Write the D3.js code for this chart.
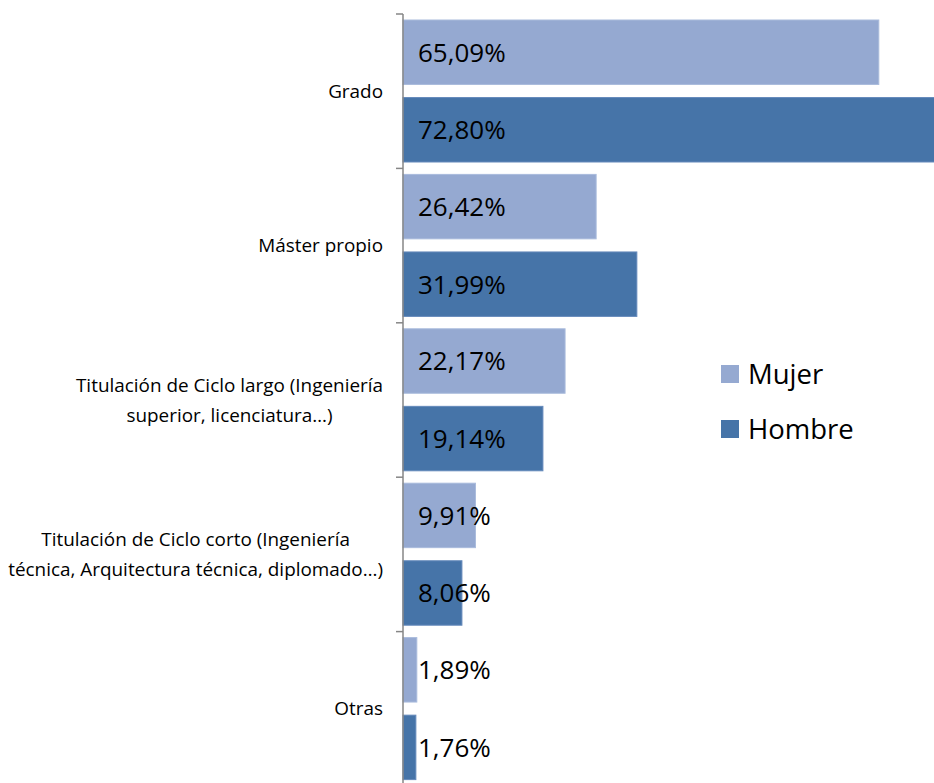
<!DOCTYPE html>
<html><head><meta charset="utf-8">
<script src="https://cdn.jsdelivr.net/npm/d3@7"></script>
<style>body{margin:0;background:#fff}svg{display:block}</style>
</head><body>
<svg id="c" width="934" height="783"></svg>
<script>
const categories = [
  "Grado",
  "Máster propio",
  "Titulación de Ciclo largo (Ingeniería|superior, licenciatura…)",
  "Titulación de Ciclo corto (Ingeniería|técnica, Arquitectura técnica, diplomado…)",
  "Otras"
];
const seriesNames = ["Mujer", "Hombre"];
const mujer = [65.09, 26.42, 22.17, 9.91, 1.89];
const hombre = [72.80, 31.99, 19.14, 8.06, 1.76];

const colors = {Mujer: "#95a9d1", Hombre: "#4674a8"};
const strokes = {Mujer: "#a9bbdc", Hombre: "#6489bb"};
const font = "'Open Sans', sans-serif";

const svg = d3.select("#c");
const x = d3.scaleLinear().domain([0, 100]).range([403, 1134]);
const y = d3.scaleBand().domain(categories).range([14, 786]).padding(0);
const ys = d3.scaleBand().domain(seriesNames).range([6, 148]).paddingInner(0.169).paddingOuter(0);

const data = categories.map((c, i) => ({cat: c, vals: [{s: "Mujer", v: mujer[i]}, {s: "Hombre", v: hombre[i]}]}));

const g = svg.selectAll("g.cat").data(data).join("g").attr("class", "cat")
  .attr("transform", d => `translate(0,${y(d.cat)})`);

g.selectAll("rect").data(d => d.vals).join("rect")
  .attr("x", x(0))
  .attr("y", d => ys(d.s))
  .attr("width", d => x(d.v) - x(0))
  .attr("height", ys.bandwidth())
  .attr("fill", d => colors[d.s])
  .attr("stroke", d => strokes[d.s])
  .attr("stroke-width", 1);

g.selectAll("text.val").data(d => d.vals).join("text").attr("class", "val")
  .attr("x", x(0) + 15)
  .attr("y", d => ys(d.s) + ys.bandwidth() / 2)
  .attr("dy", "0.36em")
  .attr("font-family", font)
  .attr("font-size", 26)
  .attr("fill", "#000")
  .text(d => d.v.toFixed(2).replace(".", ",") + "%");

// axis line and category boundary ticks
const ag = svg.append("g").attr("transform", `translate(${x(0)},0)`);
ag.append("line").attr("x1", 0).attr("x2", 0).attr("y1", y.range()[0]).attr("y2", y.range()[1]).attr("stroke", "#868686").attr("stroke-width", 1.5);
const boundaries = categories.map(c => y(c)).concat([y.range()[1]]);
ag.selectAll("line.tk").data(boundaries).join("line").attr("class", "tk")
  .attr("x1", -7).attr("x2", 0).attr("y1", d => d).attr("y2", d => d)
  .attr("stroke", "#868686").attr("stroke-width", 1.5);

// category labels
const lab = svg.selectAll("g.lab").data(categories).join("g").attr("class", "lab");
lab.each(function(c) {
  const lines = c.split("|");
  const gg = d3.select(this);
  const lh = 30;
  const cy = y(c) + y.bandwidth() / 2;
  const texts = gg.selectAll("text").data(lines).join("text")
    .attr("font-family", font).attr("font-size", 18.9).attr("fill", "#000")
    .attr("y", (d, i) => cy + (i - (lines.length - 1) / 2) * lh)
    .attr("dy", "0.35em")
    .attr("text-anchor", "middle")
    .text(d => d);
  let w = 0;
  texts.each(function() { w = Math.max(w, this.getComputedTextLength()); });
  texts.attr("x", 383 - w / 2);
});

// legend
const leg = svg.selectAll("g.leg").data(seriesNames).join("g").attr("class", "leg")
  .attr("transform", (d, i) => `translate(721,${365 + i * 55})`);
leg.append("rect").attr("width", 18).attr("height", 18).attr("fill", d => colors[d]);
leg.append("text").attr("x", 27).attr("y", 9).attr("dy", "0.36em")
  .attr("font-family", font).attr("font-size", 27.5).attr("fill", "#000").text(d => d);
</script>
</body></html>
